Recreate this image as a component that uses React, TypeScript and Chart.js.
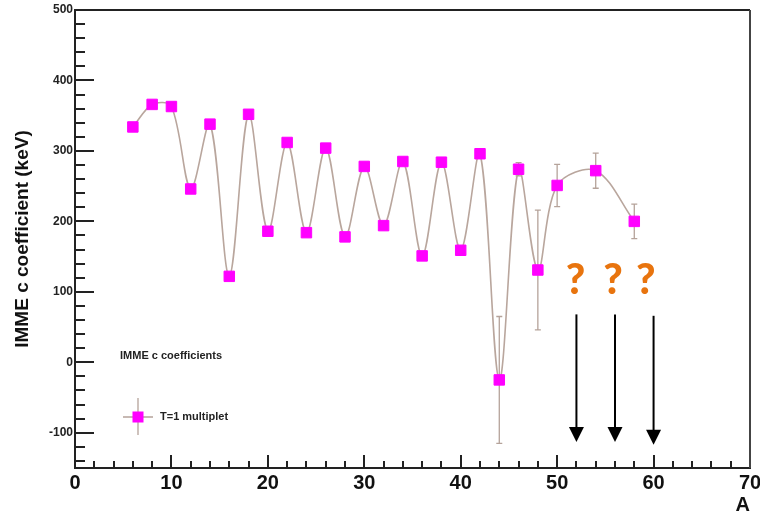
import React, { useEffect, useRef } from 'react';
import { Chart, registerables } from 'chart.js';

Chart.register(...registerables);

// ---- data ----
const massA = [6, 8, 10, 12, 14, 16, 18, 20, 22, 24, 26, 28, 30, 32, 34, 36, 38, 40, 42, 44, 46, 48, 50, 54, 58];
const cCoef = [334, 366, 363, 246, 338, 122, 352, 186, 312, 184, 304, 178, 278, 194, 285, 151, 284, 159, 296, -25, 274, 131, 251, 272, 200];
const cErr = [4, 4, 4, 4, 4, 4, 4, 4, 4, 4, 4, 4, 4, 4, 4, 4, 4, 4, 4, 90, 9.5, 85, 30, 25, 24.5];

const arrowA = [52, 56, 60];
const arrowTop = [68, 68, 66];
const arrowTip = [-113, -113, -117];
const questionA = [51.9, 55.8, 59.2];
const questionY = 116;

const yMajorTicks = [-100, 0, 100, 200, 300, 400, 500];
const xMajorTicks = [0, 10, 20, 30, 40, 50, 60, 70];

const legendHeader = 'IMME c coefficients';
const legendLabel = 'T=1 multiplet';
const yTitle = 'IMME c coefficient (keV)';
const xTitle = 'A';

const FONT = '"Liberation Sans", Arial, Helvetica, sans-serif';
const LINE_COLOR = '#b9a69d';
const ERR_COLOR = '#b5a39a';
const MARKER = '#ff00ff';
const AXIS = '#222222';

const rootStyle = {
  id: 'rootStyle',
  beforeDatasetsDraw(chart: any) {
    const { ctx, scales } = chart;
    const x = scales.x;
    const y = scales.y;
    ctx.save();
    ctx.strokeStyle = ERR_COLOR;
    ctx.lineWidth = 1.3;
    massA.forEach((a, i) => {
      const e = cErr[i];
      const px = x.getPixelForValue(a);
      const top = y.getPixelForValue(cCoef[i] + e);
      const bot = y.getPixelForValue(cCoef[i] - e);
      ctx.beginPath();
      ctx.moveTo(px, top);
      ctx.lineTo(px, bot);
      ctx.moveTo(px - 3, top);
      ctx.lineTo(px + 3, top);
      ctx.moveTo(px - 3, bot);
      ctx.lineTo(px + 3, bot);
      ctx.stroke();
    });
    ctx.restore();
  },
  afterDraw(chart: any) {
    const { ctx, chartArea: ca, scales } = chart;
    const x = scales.x;
    const y = scales.y;
    ctx.save();
    // frame (top + right)
    ctx.lineWidth = 2;
    ctx.strokeStyle = AXIS;
    ctx.beginPath();
    ctx.moveTo(ca.left, ca.top);
    ctx.lineTo(ca.right, ca.top);
    ctx.stroke();
    ctx.strokeStyle = '#444444';
    ctx.beginPath();
    ctx.moveTo(ca.right, ca.top);
    ctx.lineTo(ca.right, ca.bottom);
    ctx.stroke();

    // inside ticks
    ctx.strokeStyle = AXIS;
    ctx.lineWidth = 2;
    for (let v = -140; v <= 500; v += 20) {
      const py = Math.round(y.getPixelForValue(v));
      const major = yMajorTicks.includes(v);
      ctx.beginPath();
      ctx.moveTo(ca.left, py);
      ctx.lineTo(ca.left + (major ? 19 : 10), py);
      ctx.stroke();
    }
    for (let v = 2; v < 70; v += 2) {
      const px = Math.round(x.getPixelForValue(v));
      const major = xMajorTicks.includes(v);
      ctx.beginPath();
      ctx.moveTo(px, ca.bottom);
      ctx.lineTo(px, ca.bottom - (major ? 13 : 7));
      ctx.stroke();
    }

    // legend
    ctx.fillStyle = '#222222';
    ctx.font = `bold 11px ${FONT}`;
    ctx.textBaseline = 'middle';
    ctx.textAlign = 'left';
    ctx.fillText(legendHeader, 120, 356);
    ctx.strokeStyle = ERR_COLOR;
    ctx.lineWidth = 1.3;
    ctx.beginPath();
    ctx.moveTo(123, 417);
    ctx.lineTo(153, 417);
    ctx.moveTo(138, 398);
    ctx.lineTo(138, 435);
    ctx.stroke();
    ctx.fillStyle = MARKER;
    ctx.fillRect(132.5, 411.5, 11, 11);
    ctx.fillStyle = '#222222';
    ctx.fillText(legendLabel, 160, 417);

    // arrows
    ctx.strokeStyle = '#000000';
    ctx.fillStyle = '#000000';
    ctx.lineWidth = 2;
    arrowA.forEach((a, i) => {
      const px = x.getPixelForValue(a);
      const top = y.getPixelForValue(arrowTop[i]);
      const tip = y.getPixelForValue(arrowTip[i]);
      ctx.beginPath();
      ctx.moveTo(px, top);
      ctx.lineTo(px, tip - 12);
      ctx.stroke();
      ctx.beginPath();
      ctx.moveTo(px, tip);
      ctx.lineTo(px - 7.5, tip - 15);
      ctx.lineTo(px + 7.5, tip - 15);
      ctx.closePath();
      ctx.fill();
    });

    // question marks
    ctx.fillStyle = '#e8740e';
    ctx.font = `900 42px Lato, "Open Sans", sans-serif`;
    ctx.textAlign = 'center';
    ctx.textBaseline = 'middle';
    questionA.forEach((a) => {
      ctx.fillText('?', x.getPixelForValue(a), y.getPixelForValue(questionY));
    });
    ctx.restore();
  },
};

export default function App() {
  const ref = useRef<HTMLCanvasElement | null>(null);
  useEffect(() => {
    if (!ref.current) return;
    const chart = new Chart(ref.current, {
      type: 'line',
      data: {
        datasets: [
          {
            label: legendLabel,
            data: massA.map((a, i) => ({ x: a, y: cCoef[i] })),
            borderColor: LINE_COLOR,
            borderWidth: 1.6,
            tension: 0.33,
            pointStyle: 'rect',
            pointRadius: 7.4,
            pointBorderWidth: 1,
            pointBackgroundColor: MARKER,
            pointBorderColor: MARKER,
            fill: false,
          },
        ],
      },
      options: {
        animation: false,
        responsive: false,
        maintainAspectRatio: false,
        layout: { padding: { top: 10, right: 10, left: 0, bottom: 0 } },
        plugins: { legend: { display: false }, tooltip: { enabled: false } },
        scales: {
          x: {
            type: 'linear',
            min: 0,
            max: 70,
            afterFit: (s: any) => {
              s.height = 50;
              s.paddingLeft = 0;
              s.paddingRight = 0;
            },
            grid: { display: false, drawTicks: false },
            border: { display: true, color: AXIS, width: 2 },
            ticks: {
              stepSize: 10,
              padding: 3,
              color: '#111111',
              font: { family: FONT, size: 20, weight: 'bold' },
            },
            title: {
              display: true,
              text: xTitle,
              align: 'end',
              color: '#111111',
              font: { family: FONT, size: 20, weight: 'bold' },
              padding: { top: 0, bottom: 1 },
            },
          },
          y: {
            type: 'linear',
            min: -150,
            max: 500,
            afterFit: (s: any) => {
              s.width = 75;
              s.paddingTop = 0;
              s.paddingBottom = 0;
            },
            grid: { display: false, drawTicks: false },
            border: { display: true, color: AXIS, width: 2 },
            ticks: {
              stepSize: 100,
              padding: 2,
              color: '#222222',
              font: { family: FONT, size: 12, weight: 'bold' },
              callback: (v: any) => (yMajorTicks.includes(Number(v)) ? String(v) : ''),
            },
            title: {
              display: true,
              text: yTitle,
              color: '#111111',
              font: { family: FONT, size: 19, weight: 'bold' },
              padding: { top: 11, bottom: 0 },
            },
          },
        },
      },
      plugins: [rootStyle],
    });
    return () => chart.destroy();
  }, []);
  return (
    <div style={{ position: 'absolute', left: 0, top: 0, width: 760, height: 518, background: '#ffffff' }}>
      <canvas ref={ref} width={760} height={518} style={{ display: 'block' }} />
    </div>
  );
}
